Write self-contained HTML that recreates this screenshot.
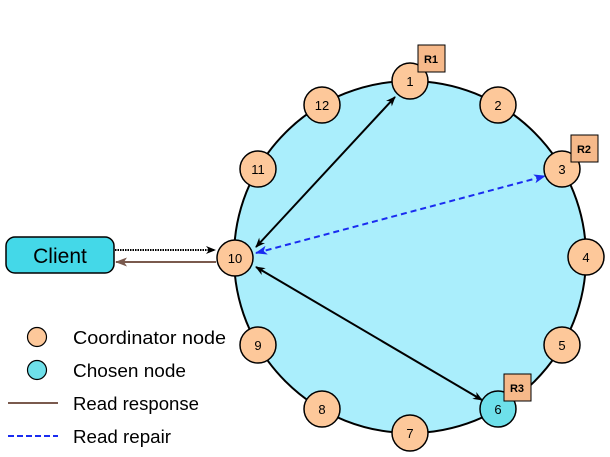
<!DOCTYPE html>
<html><head><style>body{margin:0;background:#fff}svg{display:block}</style></head><body>
<svg width="610" height="457" viewBox="0 0 610 457" xmlns="http://www.w3.org/2000/svg" font-family="Liberation Sans, sans-serif">
<defs>
<marker id="ab" markerWidth="10" markerHeight="8" refX="9" refY="4" orient="auto" markerUnits="userSpaceOnUse"><path d="M0,0 L10,4 L0,8 L3,4 z" fill="#000"/></marker>
<marker id="abs" markerWidth="10" markerHeight="8" refX="1" refY="4" orient="auto" markerUnits="userSpaceOnUse"><path d="M10,0 L0,4 L10,8 L7,4 z" fill="#000"/></marker>
<marker id="bl" markerWidth="12" markerHeight="9" refX="11" refY="4.5" orient="auto" markerUnits="userSpaceOnUse"><path d="M0,0 L12,4.5 L0,9 L3,4.5 z" fill="#1a2cf0"/></marker>
<marker id="bls" markerWidth="12" markerHeight="9" refX="1" refY="4.5" orient="auto" markerUnits="userSpaceOnUse"><path d="M12,0 L0,4.5 L12,9 L9,4.5 z" fill="#1a2cf0"/></marker>
<marker id="br" markerWidth="12" markerHeight="9" refX="11" refY="4.5" orient="auto" markerUnits="userSpaceOnUse"><path d="M0,0 L12,4.5 L0,9 L3,4.5 z" fill="#7a5a4e"/></marker>
</defs>
<circle cx="410" cy="257" r="176" fill="#aaeefc" stroke="#000" stroke-width="2"/>
<line x1="256" y1="247" x2="395" y2="97" stroke="#000" stroke-width="2" marker-start="url(#abs)" marker-end="url(#ab)"/>
<line x1="256" y1="267" x2="482" y2="400" stroke="#000" stroke-width="2" marker-start="url(#abs)" marker-end="url(#ab)"/>
<line x1="256" y1="253" x2="545" y2="176" stroke="#1a2cf0" stroke-width="2" stroke-dasharray="6,4" marker-start="url(#bls)" marker-end="url(#bl)"/>
<rect x="6" y="237" width="108" height="36" rx="9" fill="#44d8e8" stroke="#000" stroke-width="1.5"/>
<text x="60" y="263" font-size="21" text-anchor="middle">Client</text>
<line x1="115" y1="250" x2="215" y2="250" stroke="#000" stroke-width="2" stroke-dasharray="1.5,1" marker-end="url(#ab)"/>
<line x1="216" y1="262" x2="116" y2="262" stroke="#7a5a4e" stroke-width="2" marker-end="url(#br)"/>
<g stroke="#000" stroke-width="1.5" font-size="13" text-anchor="middle">
<circle cx="410" cy="81" r="18" fill="#fdc89a"/>
<circle cx="498" cy="105" r="18" fill="#fdc89a"/>
<circle cx="562" cy="169" r="18" fill="#fdc89a"/>
<circle cx="586" cy="257" r="18" fill="#fdc89a"/>
<circle cx="562" cy="345" r="18" fill="#fdc89a"/>
<circle cx="498" cy="409" r="18" fill="#6ee0ea"/>
<circle cx="410" cy="433" r="18" fill="#fdc89a"/>
<circle cx="322" cy="409" r="18" fill="#fdc89a"/>
<circle cx="258" cy="345" r="18" fill="#fdc89a"/>
<circle cx="235" cy="258" r="18" fill="#fdc89a"/>
<circle cx="258" cy="169" r="18" fill="#fdc89a"/>
<circle cx="322" cy="105" r="18" fill="#fdc89a"/>
<rect x="418" y="45" width="27" height="27" fill="#f6b98a" stroke-width="1"/>
<rect x="571" y="135" width="27" height="27" fill="#f6b98a" stroke-width="1"/>
<rect x="504" y="374" width="27" height="27" fill="#f6b98a" stroke-width="1"/>
</g>
<g font-size="13" text-anchor="middle" fill="#000">
<text x="410" y="86">1</text><text x="498" y="110">2</text><text x="562" y="174">3</text><text x="586" y="262">4</text>
<text x="562" y="350">5</text><text x="498" y="414">6</text><text x="410" y="438">7</text><text x="322" y="414">8</text>
<text x="258" y="350">9</text><text x="235" y="263">10</text><text x="258" y="174">11</text><text x="322" y="110">12</text>
<text x="431" y="63" font-size="11" font-weight="bold">R1</text>
<text x="584" y="153" font-size="11" font-weight="bold">R2</text>
<text x="517" y="392" font-size="11" font-weight="bold">R3</text>
</g>
<circle cx="37" cy="337" r="9.5" fill="#fdc89a" stroke="#000" stroke-width="1.2"/>
<circle cx="37" cy="370" r="9.5" fill="#6ee0ea" stroke="#000" stroke-width="1.2"/>
<line x1="8" y1="403" x2="58" y2="403" stroke="#7a5a4e" stroke-width="2"/>
<line x1="8" y1="436" x2="58" y2="436" stroke="#1a2cf0" stroke-width="2" stroke-dasharray="6,3"/>
<g font-size="18" fill="#000">
<text x="73" y="344" textLength="153" lengthAdjust="spacingAndGlyphs">Coordinator node</text>
<text x="73" y="377" textLength="113" lengthAdjust="spacingAndGlyphs">Chosen node</text>
<text x="73" y="410" textLength="126" lengthAdjust="spacingAndGlyphs">Read response</text>
<text x="73" y="443" textLength="98" lengthAdjust="spacingAndGlyphs">Read repair</text>
</g>
</svg>
</body></html>
